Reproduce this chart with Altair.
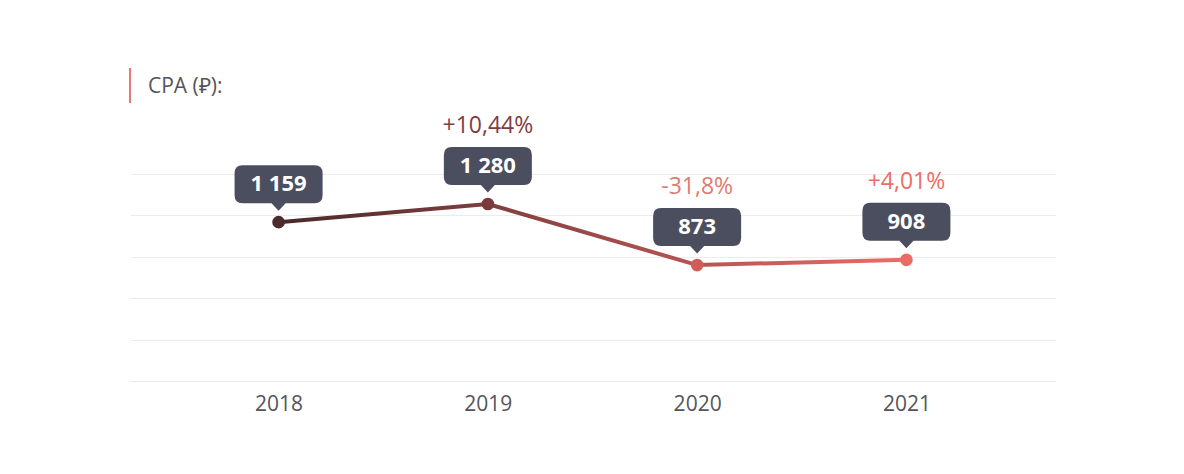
import altair as alt
import pandas as pd

years = ["2018", "2019", "2020", "2021"]
cpa = [1159, 1280, 873, 908]
cpa_labels = ["1 159", "1 280", "873", "908"]
changes = ["", "+10,44%", "-31,8%", "+4,01%"]
title_text = ["CPA (₽):"]

point_colors = ["#4d2a2c", "#7a393c", "#cf5e5a", "#ec6a64"]
change_colors = ["#ffffff", "#7e3d42", "#e07b72", "#ec6e66"]

df = pd.DataFrame({"year": years, "cpa": cpa, "label": cpa_labels, "change": changes})

FONT = "Open Sans"
dom_min, dom_max = 100, 1480
step = (dom_max - dom_min) / 5
grid_vals = [dom_min + i * step for i in range(6)]

x = alt.X("year:O", title=None,
          scale=alt.Scale(type="point", padding=0.71),
          axis=alt.Axis(labelAngle=0, domain=False, ticks=False, labelPadding=12,
                        labelFontSize=21, labelColor="#555559", labelFont=FONT, grid=False))
y = alt.Y("cpa:Q", title=None,
          scale=alt.Scale(domain=[dom_min, dom_max], nice=False, zero=False),
          axis=alt.Axis(values=grid_vals, labels=False, ticks=False, domain=False,
                        grid=True, gridColor="#ececec", gridWidth=1))

base = alt.Chart(df)

line = base.mark_line(
    strokeWidth=4,
    color=alt.Gradient(gradient="linear",
                       stops=[alt.GradientStop(color="#4a282a", offset=0),
                              alt.GradientStop(color="#ec6c66", offset=1)],
                       x1=0, x2=1, y1=0, y2=0),
).encode(x=x, y=y)

points = base.mark_circle(size=160, opacity=1).encode(
    x=x, y=y,
    color=alt.Color("year:O", scale=alt.Scale(domain=years, range=point_colors), legend=None),
)

badge_path = ("M -0.82 -1.296 L 0.82 -1.296 Q 1 -1.296 1 -1.116 L 1 -0.612 "
              "Q 1 -0.432 0.82 -0.432 L 0.16 -0.432 L 0 -0.26 L -0.16 -0.432 "
              "L -0.82 -0.432 Q -1 -0.432 -1 -0.612 L -1 -1.116 Q -1 -1.296 -0.82 -1.296 Z")

badges = base.mark_point(shape=badge_path, size=88 * 88, filled=True, opacity=1,
                         color="#4a4e5f", strokeWidth=0).encode(x=x, y=y)

badge_text = base.mark_text(dy=-38, baseline="middle", align="center", font=FONT,
                            fontSize=22, fontWeight="bold", color="#ffffff").encode(
    x=x, y=y, text="label:N")

change_text = base.mark_text(dy=-78, baseline="middle", align="center", font=FONT,
                             fontSize=23).encode(
    x=x, y=y, text="change:N",
    color=alt.Color("year:O", scale=alt.Scale(domain=years, range=change_colors), legend=None),
)

bar = alt.Chart(pd.DataFrame({"a": [0]})).mark_rule(color="#e87878", strokeWidth=2).encode(
    x=alt.value(0), y=alt.value(-106), y2=alt.value(-71))

title = alt.Chart(pd.DataFrame({"t": title_text})).mark_text(
    align="left", baseline="alphabetic", font=FONT, fontSize=21, color="#555559"
).encode(x=alt.value(18), y=alt.value(-81), text="t:N")

chart = alt.layer(line, points, badges, badge_text, change_text, bar, title).resolve_scale(
    color="independent"
).properties(
    width=925, height=207,
    autosize=alt.AutoSizeParams(type="none"),
    padding={"left": 122, "top": 166, "right": 100, "bottom": 70},
    background="#ffffff",
).configure_view(stroke=None)

chart.save("out.html", embed_options={"renderer": "svg", "actions": False})
